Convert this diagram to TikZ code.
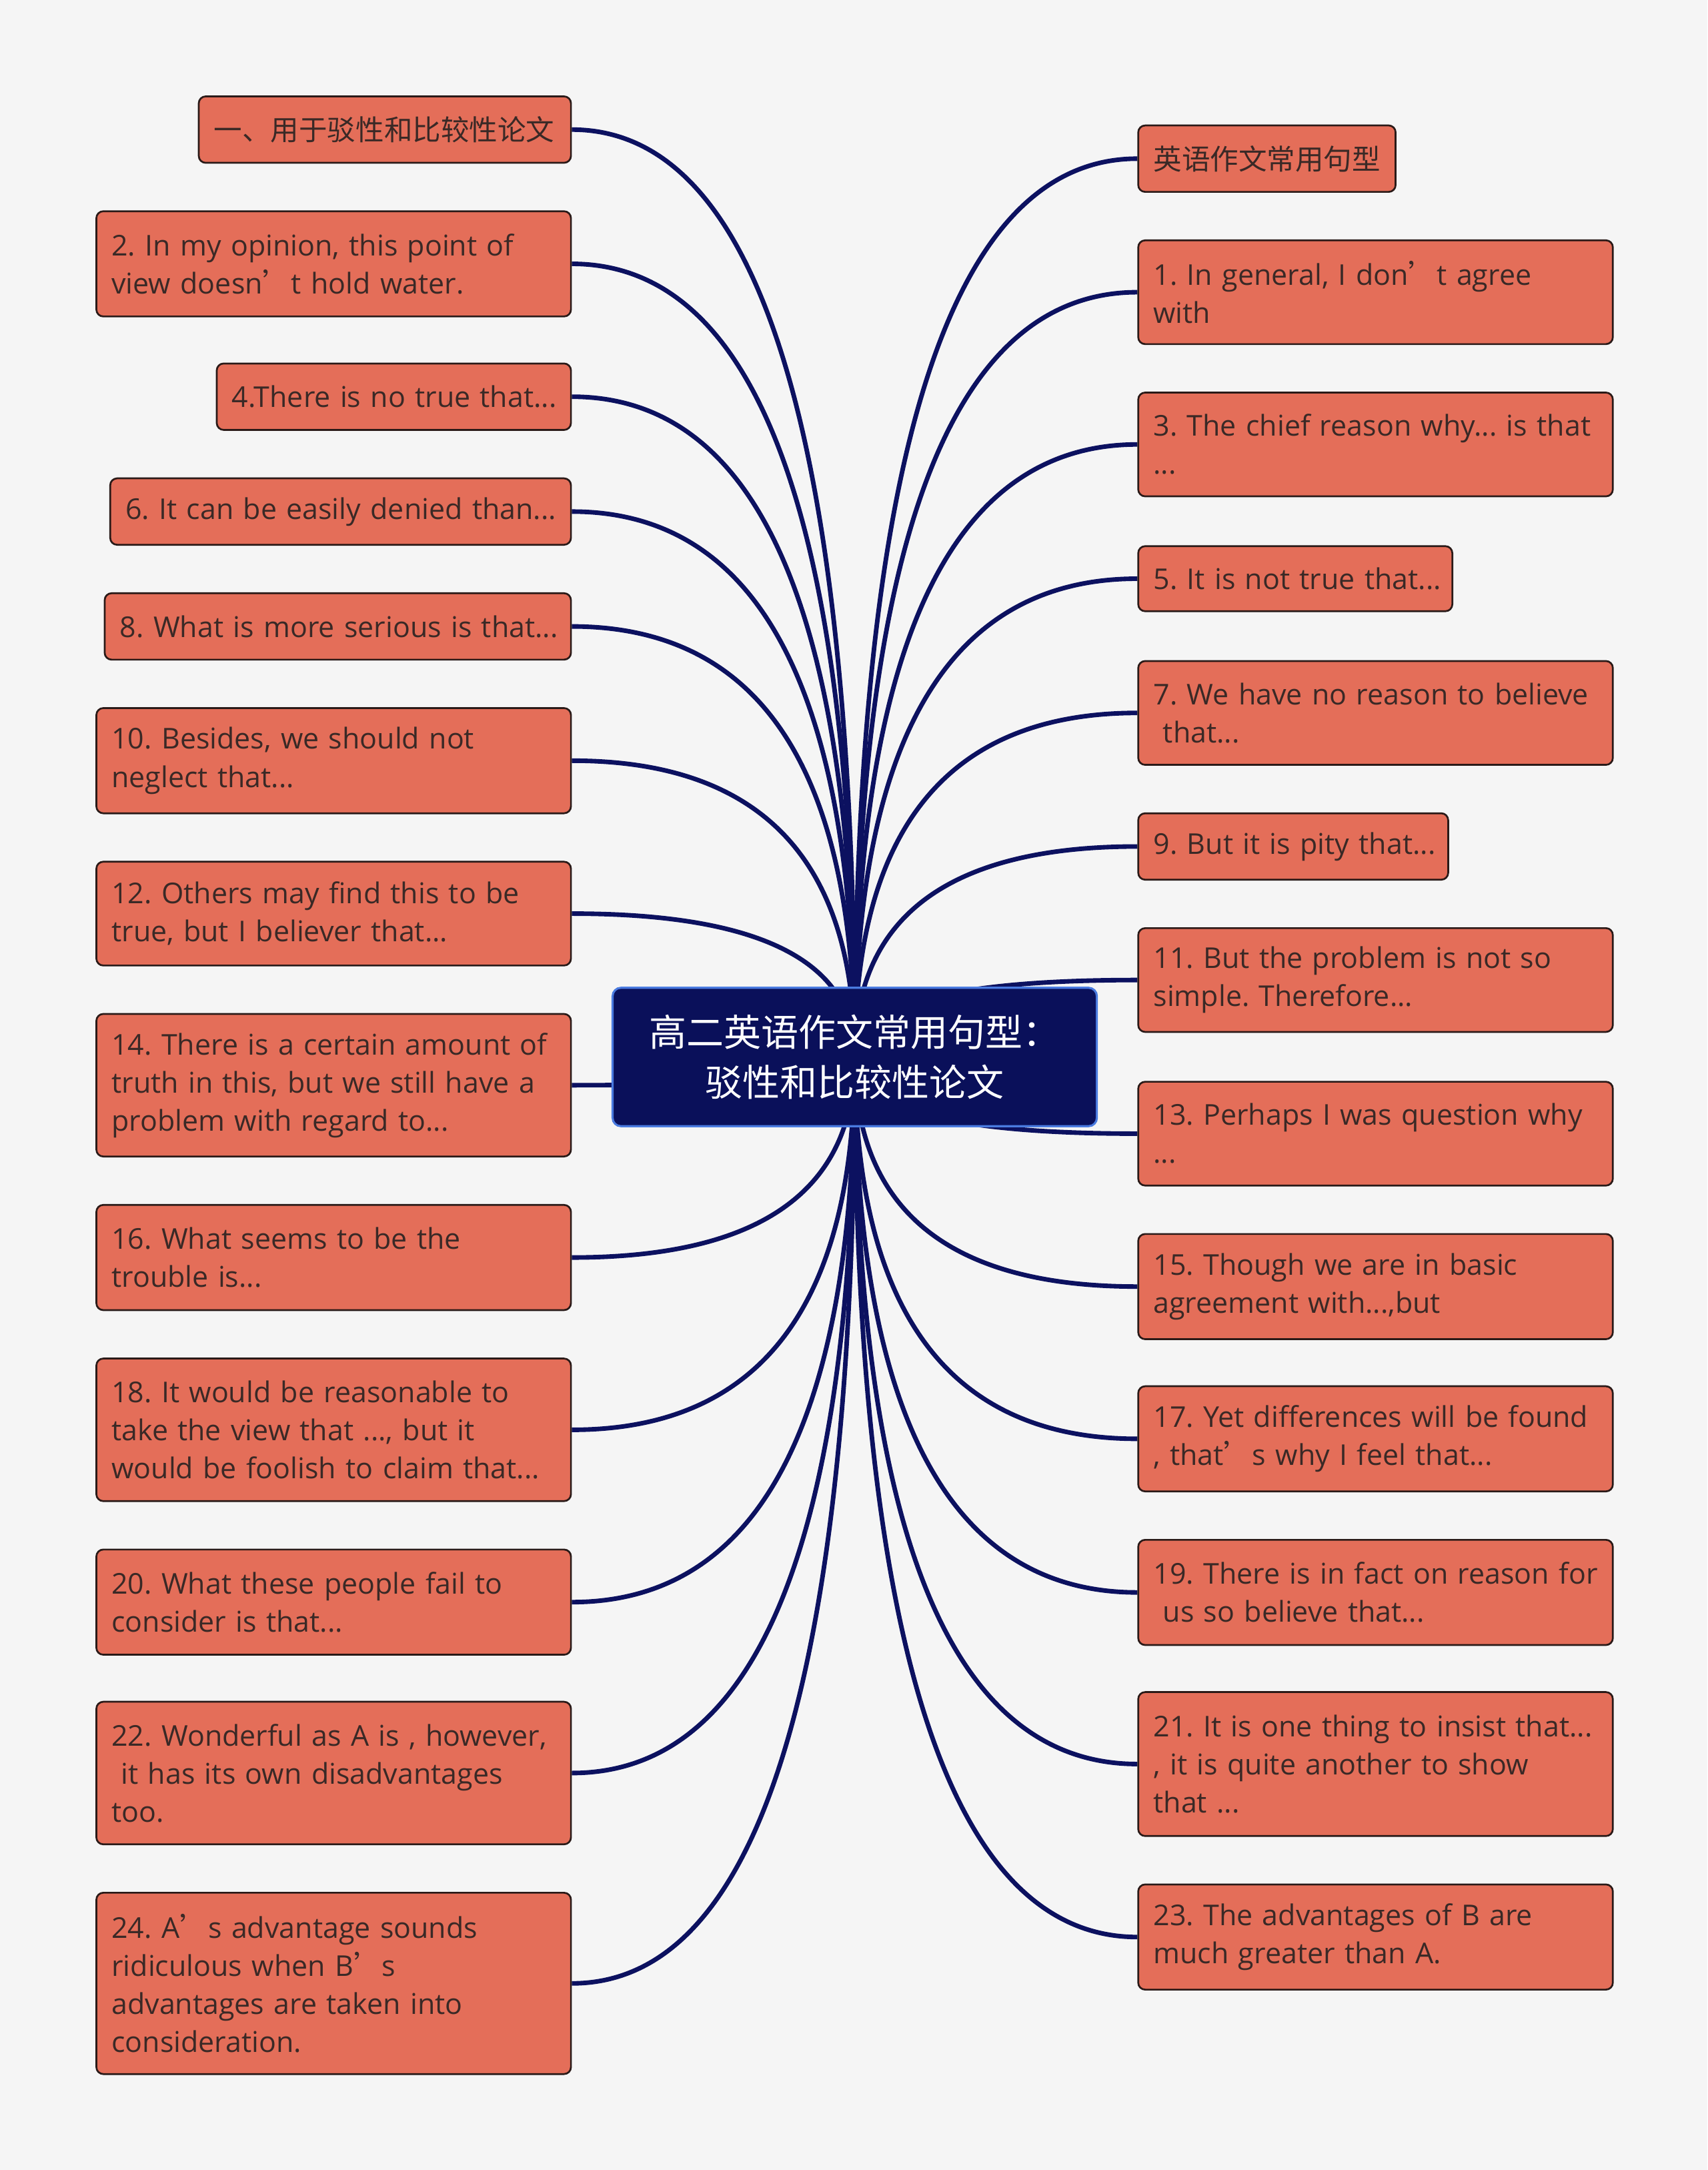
\documentclass[tikz,border=0pt]{standalone}
\usepackage{fontspec}
\setmainfont{Open Sans}
\newfontfamily\cjk{Noto Sans CJK SC}
\usetikzlibrary{backgrounds,calc}
\frenchspacing
\definecolor{bgc}{HTML}{F5F5F5}
\definecolor{leaffill}{HTML}{E46E59}
\definecolor{leafdraw}{HTML}{2A1A18}
\definecolor{leaftext}{HTML}{3A2926}
\definecolor{rootfill}{HTML}{0A105A}
\definecolor{rootdraw}{HTML}{4A7BE0}
\definecolor{linkc}{HTML}{0C1160}
\newcommand{\tline}[1]{\mbox{#1}}
\newcommand{\cq}{{\cjk ’}}
\tikzset{
  leaf/.style={draw=leafdraw, fill=leaffill, rounded corners=5pt, line width=1.3pt,
    text=leaftext, inner xsep=11pt, inner ysep=0pt, align=left, anchor=north west,
    font=\fontsize{20.7}{27.5}\selectfont},
  cjkleaf/.style={leaf, font=\cjk\fontsize{20.5}{27.5}\selectfont},
  root/.style={draw=rootdraw, fill=rootfill, rounded corners=6pt, line width=1.5pt,
    text=white, align=center, anchor=north west, inner sep=0pt,
    font=\cjk\fontsize{27}{36}\selectfont},
  conn/.style={draw=linkc, line width=3.3pt}
}
\begin{document}
\begin{tikzpicture}[x=1pt,y=-1pt]
\useasboundingbox (0,0) rectangle (1234,1568);
% root
\node[root, minimum width=350pt, minimum height=100pt] (ctr) at (442,713)
  {高二英语作文常用句型：\\驳性和比较性论文};
% left nodes
\node[cjkleaf, text width=247pt, minimum height=48pt] (L1) at (143,69) {\tline{一、用于驳性和比较性论文}};
\node[leaf, text width=321pt, minimum height=76pt] (L2) at (69,152) {\tline{2. In my opinion, this point of}\\\tline{view doesn\cq t hold water.}};
\node[leaf, text width=234pt, minimum height=48pt] (L3) at (156,262) {\tline{4.There is no true that...}};
\node[leaf, text width=311pt, minimum height=48pt] (L4) at (79,345) {\tline{6. It can be easily denied than...}};
\node[leaf, text width=315pt, minimum height=48pt] (L5) at (75,428) {\tline{8. What is more serious is that...}};
\node[leaf, text width=321pt, minimum height=76pt] (L6) at (69,511) {\tline{10. Besides, we should not}\\\tline{neglect that...}};
\node[leaf, text width=321pt, minimum height=75pt] (L7) at (69,622) {\tline{12. Others may find this to be}\\\tline{true, but I believer that...}};
\node[leaf, text width=321pt, minimum height=103pt] (L8) at (69,732) {\tline{14. There is a certain amount of}\\\tline{truth in this, but we still have a}\\\tline{problem with regard to...}};
\node[leaf, text width=321pt, minimum height=76pt] (L9) at (69,870) {\tline{16. What seems to be the}\\\tline{trouble is...}};
\node[leaf, text width=321pt, minimum height=103pt] (L10) at (69,981) {\tline{18. It would be reasonable to}\\\tline{take the view that ..., but it}\\\tline{would be foolish to claim that...}};
\node[leaf, text width=321pt, minimum height=76pt] (L11) at (69,1119) {\tline{20. What these people fail to}\\\tline{consider is that...}};
\node[leaf, text width=321pt, minimum height=103pt] (L12) at (69,1229) {\tline{22. Wonderful as A is , however,}\\\tline{\ it has its own disadvantages}\\\tline{too.}};
\node[leaf, text width=321pt, minimum height=131pt] (L13) at (69,1367) {\tline{24. A\cq s advantage sounds}\\\tline{ridiculous when B\cq s}\\\tline{advantages are taken into}\\\tline{consideration.}};
% right nodes
\node[cjkleaf, text width=164pt, minimum height=48pt] (R1) at (822,90) {\tline{英语作文常用句型}};
\node[leaf, text width=321pt, minimum height=75pt] (R2) at (822,173) {\tline{1. In general, I don\cq t agree}\\\tline{with}};
\node[leaf, text width=321pt, minimum height=75pt] (R3) at (822,283) {\tline{3. The chief reason why... is that}\\\tline{...}};
\node[leaf, text width=205pt, minimum height=47pt] (R4) at (822,394) {\tline{5. It is not true that...}};
\node[leaf, text width=321pt, minimum height=75pt] (R5) at (822,477) {\tline{7. We have no reason to believe}\\\tline{\ that...}};
\node[leaf, text width=202pt, minimum height=48pt] (R6) at (822,587) {\tline{9. But it is pity that...}};
\node[leaf, text width=321pt, minimum height=75pt] (R7) at (822,670) {\tline{11. But the problem is not so}\\\tline{simple. Therefore...}};
\node[leaf, text width=321pt, minimum height=75pt] (R8) at (822,781) {\tline{13. Perhaps I was question why}\\\tline{...}};
\node[leaf, text width=321pt, minimum height=76pt] (R9) at (822,891) {\tline{15. Though we are in basic}\\\tline{agreement with...,but}};
\node[leaf, text width=321pt, minimum height=76pt] (R10) at (822,1001) {\tline{17. Yet differences will be found}\\\tline{, that\cq s why I feel that...}};
\node[leaf, text width=321pt, minimum height=76pt] (R11) at (822,1112) {\tline{19. There is in fact on reason for}\\\tline{\ us so believe that...}};
\node[leaf, text width=321pt, minimum height=104pt] (R12) at (822,1222) {\tline{21. It is one thing to insist that...}\\\tline{, it is quite another to show}\\\tline{that ...}};
\node[leaf, text width=321pt, minimum height=76pt] (R13) at (822,1361) {\tline{23. The advantages of B are}\\\tline{much greater than A.}};
% background and connectors (quadratic curves)
\begin{scope}[on background layer]
\fill[bgc] (0,0) rectangle (1234,1568);
\foreach \n in {L1,L2,L3,L4,L5,L6,L7,L8,L9,L10,L11,L12,L13}
  \draw[conn] (ctr.center) .. controls ($(ctr.center)!0.6667!(ctr.center |- \n.east)$)
    and ($(\n.east)!0.6667!(ctr.center |- \n.east)$) .. (\n.east);
\foreach \n in {R1,R2,R3,R4,R5,R6,R7,R8,R9,R10,R11,R12,R13}
  \draw[conn] (ctr.center) .. controls ($(ctr.center)!0.6667!(ctr.center |- \n.west)$)
    and ($(\n.west)!0.6667!(ctr.center |- \n.west)$) .. (\n.west);
\end{scope}
\end{tikzpicture}
\end{document}
